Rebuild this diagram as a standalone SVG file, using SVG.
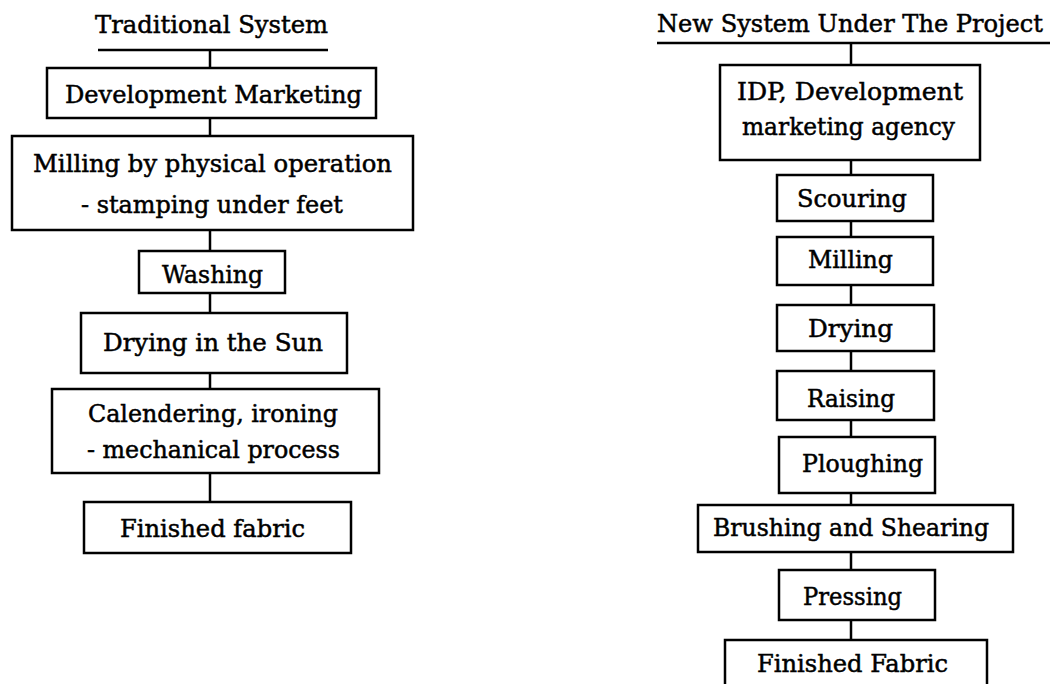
<svg xmlns="http://www.w3.org/2000/svg" width="1050" height="684" viewBox="0 0 1050 684">
<style>
  .box { fill: #fff; stroke: #000; stroke-width: 2.5; }
  .ln { stroke: #000; stroke-width: 2.5; fill: none; }
  text { font-family: "DejaVu Serif", "Liberation Serif", serif; font-size: 24px; fill: #000; stroke: #000; stroke-width: 0.5; text-anchor: middle; }
</style>
<rect width="1050" height="684" fill="#fff"/>
<g id="connectors">
  <line class="ln" x1="98" y1="50" x2="328" y2="50"/>
  <line class="ln" x1="210" y1="50" x2="210" y2="68"/>
  <line class="ln" x1="210" y1="118" x2="210" y2="136"/>
  <line class="ln" x1="210" y1="230" x2="210" y2="251"/>
  <line class="ln" x1="210" y1="293" x2="210" y2="313"/>
  <line class="ln" x1="210" y1="373" x2="210" y2="389"/>
  <line class="ln" x1="210" y1="473" x2="210" y2="502"/>
  <line class="ln" x1="657" y1="43" x2="1050" y2="43"/>
  <line class="ln" x1="851" y1="43" x2="851" y2="65"/>
  <line class="ln" x1="851" y1="160" x2="851" y2="175"/>
  <line class="ln" x1="851" y1="221" x2="851" y2="237"/>
  <line class="ln" x1="851" y1="285" x2="851" y2="305"/>
  <line class="ln" x1="851" y1="351" x2="851" y2="371"/>
  <line class="ln" x1="851" y1="420" x2="851" y2="437"/>
  <line class="ln" x1="851" y1="493" x2="851" y2="505"/>
  <line class="ln" x1="851" y1="552" x2="851" y2="570"/>
  <line class="ln" x1="851" y1="620" x2="851" y2="640"/>
</g>
<g id="title-traditional"><text x="211.5" y="33" textLength="233" lengthAdjust="spacingAndGlyphs">Traditional System</text></g>
<g id="title-new"><text x="850" y="32" textLength="386" lengthAdjust="spacingAndGlyphs">New System Under The Project</text></g>

<g id="t-dev-marketing">
  <rect class="box" x="47" y="68" width="329" height="50"/>
  <text x="213.5" y="103" textLength="297" lengthAdjust="spacingAndGlyphs">Development Marketing</text>
</g>
<g id="t-milling">
  <rect class="box" x="12" y="136" width="401" height="94"/>
  <text x="212.5" y="172" textLength="359" lengthAdjust="spacingAndGlyphs">Milling by physical operation</text>
  <text x="212" y="213" textLength="262" lengthAdjust="spacingAndGlyphs">- stamping under feet</text>
</g>
<g id="t-washing">
  <rect class="box" x="139" y="251" width="146" height="42"/>
  <text x="212.5" y="283" textLength="101" lengthAdjust="spacingAndGlyphs">Washing</text>
</g>
<g id="t-drying-sun">
  <rect class="box" x="81" y="313" width="266" height="60"/>
  <text x="213" y="351" textLength="220" lengthAdjust="spacingAndGlyphs">Drying in the Sun</text>
</g>
<g id="t-calendering">
  <rect class="box" x="52" y="389" width="327" height="84"/>
  <text x="213" y="422" textLength="250" lengthAdjust="spacingAndGlyphs">Calendering, ironing</text>
  <text x="213.5" y="458" textLength="253" lengthAdjust="spacingAndGlyphs">- mechanical process</text>
</g>
<g id="t-finished">
  <rect class="box" x="84" y="502" width="267" height="51"/>
  <text x="212.5" y="537" textLength="185" lengthAdjust="spacingAndGlyphs">Finished fabric</text>
</g>

<g id="n-idp">
  <rect class="box" x="720" y="65" width="260" height="95"/>
  <text x="850" y="100" textLength="226" lengthAdjust="spacingAndGlyphs">IDP, Development</text>
  <text x="848.5" y="135" textLength="213" lengthAdjust="spacingAndGlyphs">marketing agency</text>
</g>
<g id="n-scouring">
  <rect class="box" x="777" y="175" width="156" height="46"/>
  <text x="852" y="207" textLength="110" lengthAdjust="spacingAndGlyphs">Scouring</text>
</g>
<g id="n-milling">
  <rect class="box" x="777" y="237" width="156" height="48"/>
  <text x="850.5" y="268" textLength="85" lengthAdjust="spacingAndGlyphs">Milling</text>
</g>
<g id="n-drying">
  <rect class="box" x="777" y="305" width="157" height="46"/>
  <text x="850.5" y="337" textLength="85" lengthAdjust="spacingAndGlyphs">Drying</text>
</g>
<g id="n-raising">
  <rect class="box" x="777" y="371" width="157" height="49"/>
  <text x="851" y="407" textLength="88" lengthAdjust="spacingAndGlyphs">Raising</text>
</g>
<g id="n-ploughing">
  <rect class="box" x="779" y="437" width="156" height="56"/>
  <text x="862.5" y="472" textLength="121" lengthAdjust="spacingAndGlyphs">Ploughing</text>
</g>
<g id="n-brushing">
  <rect class="box" x="698" y="505" width="315" height="47"/>
  <text x="851" y="536" textLength="276" lengthAdjust="spacingAndGlyphs">Brushing and Shearing</text>
</g>
<g id="n-pressing">
  <rect class="box" x="779" y="570" width="156" height="50"/>
  <text x="852.5" y="605" textLength="99" lengthAdjust="spacingAndGlyphs">Pressing</text>
</g>
<g id="n-finished">
  <rect class="box" x="725" y="640" width="262" height="52"/>
  <text x="852.5" y="672" textLength="191" lengthAdjust="spacingAndGlyphs">Finished Fabric</text>
</g>
</svg>
